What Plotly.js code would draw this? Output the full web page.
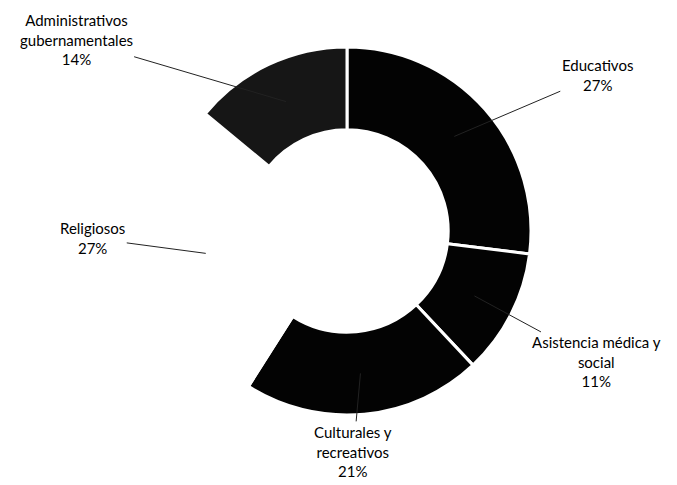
<!DOCTYPE html>
<html>
<head>
<meta charset="utf-8">
<script src="https://cdn.plot.ly/plotly-3.0.1.min.js"></script>
<style>
  html, body { margin: 0; padding: 0; background: #fff; }
  #chart { width: 677px; height: 485px; }
</style>
</head>
<body>
<div id="chart"></div>
<script>
// categories and shares (%), clockwise from 12 o'clock
var labels = ["Educativos", "Asistencia médica y<br>social", "Culturales y<br>recreativos", "Religiosos", "Administrativos<br>gubernamentales"];
var values = [27, 11, 21, 27, 14];
var colors = ["#030303", "#030303", "#030303", "#ffffff", "#161616"];
// where each label's text sits relative to its leader tip (px)
var labelDx = [143, 122, -7, -113, -210];
var labelDy = [-61, 66, 78, -15, -62];

var W = 677, H = 485;
// pie box in pixels
var cx = 347, cy = 231, R = 184;

var total = values.reduce(function (a, b) { return a + b; }, 0);

// leader tips sit at mid-angle of each slice, inside the ring
var annotations = [];
var acc = 0;
for (var i = 0; i < values.length; i++) {
    var mid = (acc + values[i] / 2) / total * 2 * Math.PI;
    acc += values[i];
    var tipR = 143;
    var px = cx + tipR * Math.sin(mid);
    var py = cy - tipR * Math.cos(mid);
    annotations.push({
        xref: "paper", yref: "paper",
        x: px / W, y: 1 - py / H,
        text: labels[i] + "<br>" + values[i] + "%",
        showarrow: true,
        arrowhead: 0,
        arrowwidth: 1,
        arrowcolor: "#222",
        standoff: 0,
        ax: labelDx[i], ay: labelDy[i],
        align: "center",
        font: { family: "Lato, 'Open Sans', sans-serif", size: 15, color: "#000" }
    });
}

var data = [{
    type: "pie",
    labels: labels,
    values: values,
    sort: false,
    direction: "clockwise",
    rotation: 0,
    hole: 0.55,
    textinfo: "none",
    hoverinfo: "label+percent",
    marker: { colors: colors, line: { color: "#ffffff", width: 3 } },
    domain: { x: [(cx - R) / W, (cx + R) / W], y: [1 - (cy + R) / H, 1 - (cy - R) / H] }
}];

var layout = {
    width: W,
    height: H,
    margin: { l: 0, r: 0, t: 0, b: 0 },
    showlegend: false,
    paper_bgcolor: "#ffffff",
    annotations: annotations
};

Plotly.newPlot("chart", data, layout, { displayModeBar: false });
</script>
</body>
</html>
